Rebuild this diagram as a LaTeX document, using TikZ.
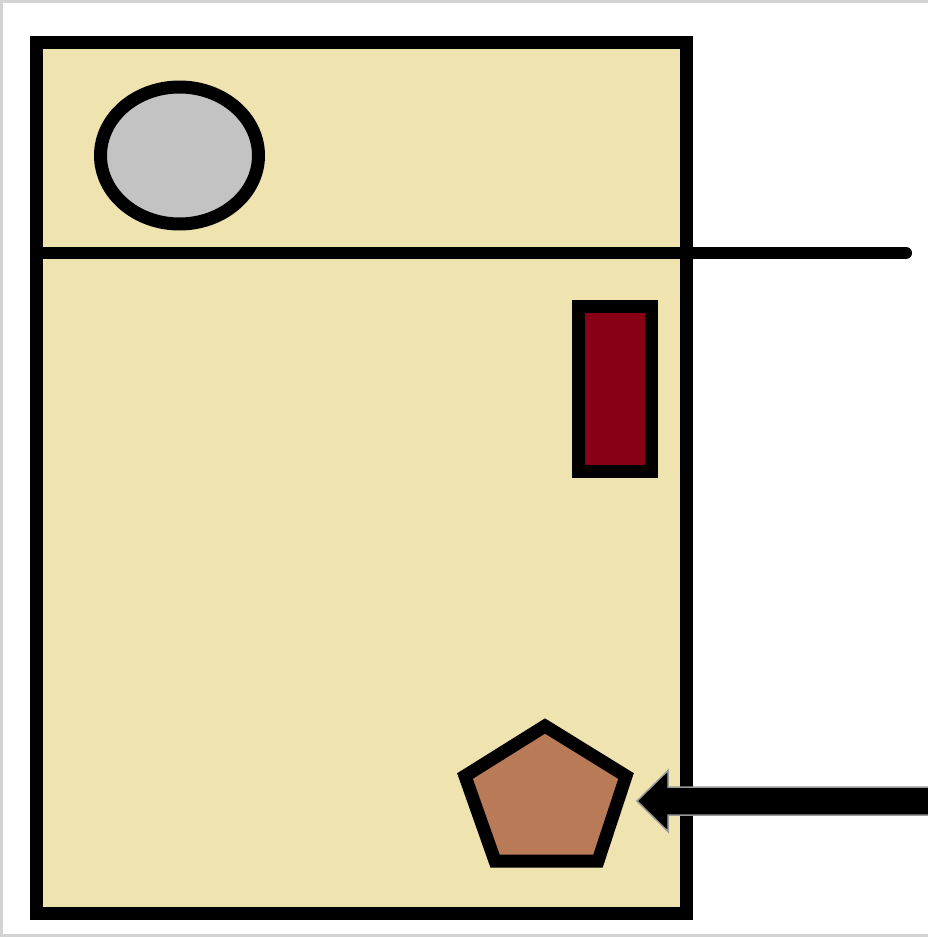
\documentclass[tikz,border=0pt]{standalone}
\begin{document}
\begin{tikzpicture}[x=1pt,y=-1pt,line join=miter,
  outline/.style={draw=black,line width=13pt}]
\definecolor{tanfill}{HTML}{EFE4B0}
\definecolor{grayfill}{HTML}{C3C3C3}
\definecolor{redfill}{HTML}{880015}
\definecolor{brownfill}{HTML}{B97A57}
\definecolor{framegray}{HTML}{D3D3D3}
\useasboundingbox (0,0) rectangle (928,937);
\fill[white] (0,0) rectangle (928,937);
\draw[framegray,line width=3pt] (928,1.5) -- (1.5,1.5) -- (1.5,935.5) -- (928,935.5);
% cabinet
\draw[outline,fill=tanfill] (36,42) rectangle (686,913);
\coordinate (shelfL) at (36,253);
\coordinate (shelfR) at (906,253);
\draw[black,line width=12pt] (shelfL) -- (686,253);
\draw[black,line width=12pt,line cap=round] (686,253) -- (shelfR);
% ellipse
\draw[outline,fill=grayfill] (179.5,155.5) ellipse [x radius=79, y radius=68.5];
% red rect
\draw[outline,fill=redfill] (578.5,306.5) rectangle (651.5,471.5);
% pentagon
\draw[outline,fill=brownfill] (545,726) -- (626,776) -- (598,861) -- (495,861) -- (465,776) -- cycle;
% arrow
\draw[draw=gray!80,line width=1.5pt,fill=black] (637,801) -- (668,770.5) -- (668,787) -- (930,787) -- (930,815) -- (668,815) -- (668,831.5) -- cycle;
\end{tikzpicture}
\end{document}
